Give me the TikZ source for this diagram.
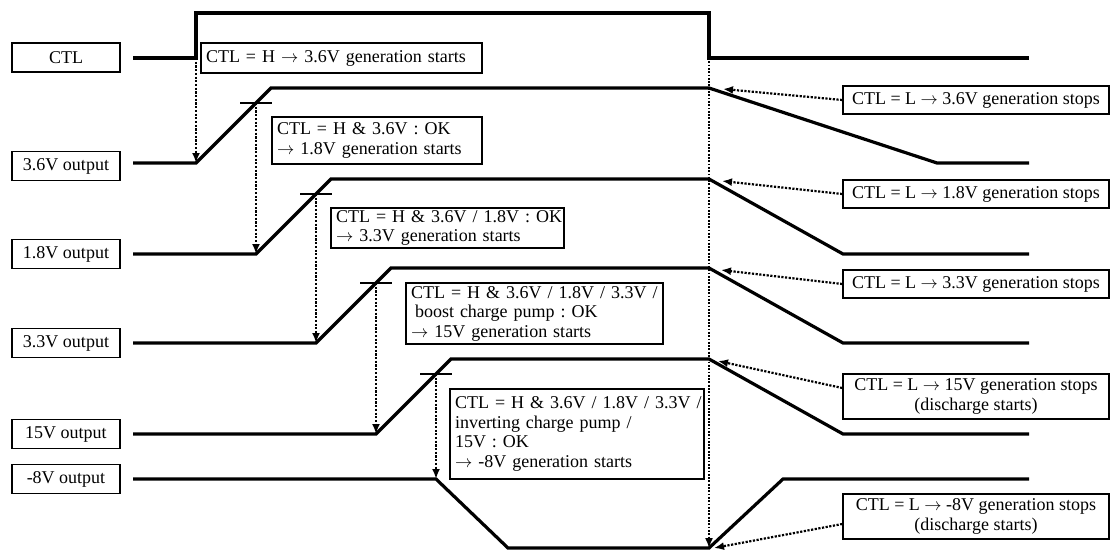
\documentclass[tikz,border=0pt]{standalone}
\usepackage{fontspec}
\setmainfont{Liberation Serif}
\usetikzlibrary{arrows.meta}
\newcommand{\rarr}{\ensuremath{\rightarrow}}
\newcommand{\tline}[1]{\mbox{#1}}
\begin{document}
\frenchspacing
\begin{tikzpicture}[x=1pt,y=-1pt,
  font=\fontsize{18}{19.5}\selectfont\frenchspacing,
  sig/.style={line width=3.2pt, line join=miter, line cap=butt},
  lbl/.style={draw, line width=1.4pt, minimum width=108pt, minimum height=29pt, inner sep=0pt},
  note/.style={draw, line width=1.4pt, align=left, inner xsep=5pt, inner ysep=1pt},
  rnote/.style={draw, line width=1.4pt, align=center, inner xsep=3pt, inner ysep=1pt, minimum width=266pt},
  dotarr/.style={line width=2.2pt, dash pattern=on 2.2pt off 1.5pt, -{Latex[length=10pt,width=8pt]}},
  vdot/.style={line width=1.5pt, dash pattern=on 1.8pt off 1.5pt, -{Latex[length=10pt,width=8pt]}},
  tickmark/.style={line width=1.2pt}
]
\fill[white] (0,0) rectangle (1111,552);
\useasboundingbox (0,0) rectangle (1111,552);

% left labels
\node[lbl] (lctl) at (66,57.5) {CTL};
\node[lbl] (l36) at (66,166) {3.6V output};
\node[lbl] (l18) at (66,254) {1.8V output};
\node[lbl] (l33) at (66,343) {3.3V output};
\node[lbl] (l15) at (66,434) {15V output};
\node[lbl] (l8) at (66,479) {-8V output};

% signals
\draw[sig] (133,58) -- (196,58) coordinate (ctlrise) -- (196,13) -- (709,13) -- (709,58) coordinate (ctlfall) -- (1029,58);
\draw[sig] (133,163) -- (196,163) coordinate (s36) -- (271,88) -- (709,88) -- (937,163) -- (1029,163);
\draw[sig] (133,254) -- (256,254) coordinate (s18) -- (331,179) -- (709,179) -- (843,254) -- (1029,254);
\draw[sig] (133,343) -- (316,343) coordinate (s33) -- (391,268) -- (709,268) -- (843,343) -- (1029,343);
\draw[sig] (133,434) -- (376,434) coordinate (s15) -- (451,359) -- (709,359) -- (843,434) -- (1029,434);
\draw[sig] (133,479) -- (436,479) coordinate (s8) -- (508,548) -- (709,548) -- (783,479) -- (1029,479);

% thresholds
\coordinate (t36) at (256,103);
\coordinate (t18) at (316,194);
\coordinate (t33) at (376,283);
\coordinate (t15) at (436,374);
\foreach \t in {t36,t18,t33,t15}{
  \draw[tickmark] ([xshift=-16pt]\t) -- ([xshift=16pt]\t);
}

% start arrows
\draw[dotarr] (ctlrise) -- (s36);
\draw[dotarr] (t36) -- (s18);
\draw[dotarr] (t18) -- (s33);
\draw[dotarr] (t33) -- (s15);
\draw[dotarr] (t15) -- (s8);
\coordinate (bottom) at (709,548);
\draw[vdot] (ctlfall) -- (bottom);

% start notes
\node[note, text width=271pt, minimum height=30pt] (b0) at (341.5,58) {\tline{CTL = H \rarr{} 3.6V generation starts}};
\node[note, text width=200pt, minimum height=47pt] (b1) at (377,140.5) {\tline{CTL = H \& 3.6V : OK}\\\tline{\rarr{} 1.8V generation starts}};
\node[note, text width=223pt, minimum height=40pt] (b2) at (447.5,228) {\tline{CTL = H \& 3.6V / 1.8V : OK}\\\tline{\rarr{} 3.3V generation starts}};
\node[note, text width=247pt, minimum height=61pt] (b3) at (534.5,313.5) {\tline{CTL = H \& 3.6V / 1.8V / 3.3V /}\\\tline{\hspace*{4pt}boost charge pump : OK}\\\tline{\rarr{} 15V generation starts}};
\node[note, text width=244pt, minimum height=90pt] (b4) at (577,434) {\tline{CTL = H \& 3.6V / 1.8V / 3.3V /}\\\tline{inverting charge pump /}\\\tline{15V : OK}\\\tline{\rarr{} -8V generation starts}};

% stop notes
\node[rnote, minimum height=28pt] (r1) at (976,100) {CTL = L \rarr{} 3.6V generation stops};
\node[rnote, minimum height=28pt] (r2) at (976,194) {CTL = L \rarr{} 1.8V generation stops};
\node[rnote, minimum height=28pt] (r3) at (976,284) {CTL = L \rarr{} 3.3V generation stops};
\node[rnote, minimum height=45pt] (r4) at (976,396.5) {CTL = L \rarr{} 15V generation stops\\(discharge starts)};
\node[rnote, minimum height=45pt] (r5) at (976,516.5) {CTL = L \rarr{} -8V generation stops\\(discharge starts)};

\coordinate (e36) at (723,89);
\coordinate (e18) at (722,181);
\coordinate (e33) at (721,270);
\coordinate (e15) at (718,361);
\coordinate (e8) at (714,548);
\draw[dotarr] (r1.west) -- (e36);
\draw[dotarr] (r2.west) -- (e18);
\draw[dotarr] (r3.west) -- (e33);
\draw[dotarr] ([yshift=8.5pt]r4.west) -- (e15);
\draw[dotarr] ([yshift=-7.5pt]r5.west) -- (e8);
\end{tikzpicture}
\end{document}
